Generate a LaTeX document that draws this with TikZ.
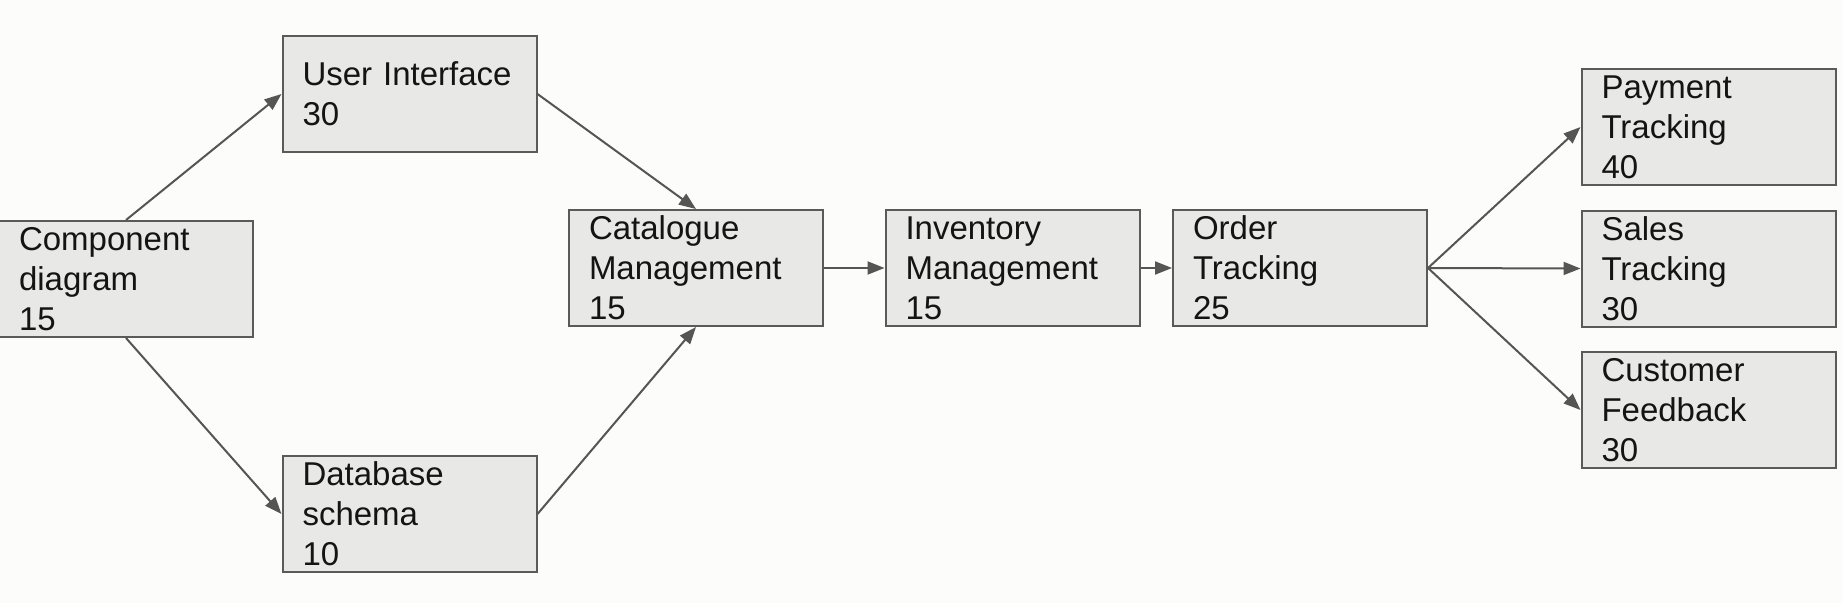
\documentclass[tikz,border=0pt]{standalone}
\usepackage{fontspec}
\setmainfont{Liberation Sans}
\usetikzlibrary{arrows.meta}
\definecolor{bgc}{HTML}{FCFCFA}
\definecolor{boxfill}{HTML}{E8E8E6}
\definecolor{boxline}{HTML}{5A5A5A}
\definecolor{arrowc}{HTML}{555555}
\definecolor{txtc}{HTML}{141414}
\begin{document}
\begin{tikzpicture}[x=1pt,y=-1pt,
  task/.style={draw=boxline, fill=boxfill, line width=2pt, anchor=north west,
    minimum width=254pt, minimum height=116pt, text width=214pt,
    inner xsep=20pt, inner ysep=0pt, align=left, text=txtc,
    font=\fontsize{33}{40}\selectfont},
  link/.style={draw=arrowc, line width=2pt, -{Triangle[length=17pt,width=13pt]}}]
\fill[bgc] (0,0) rectangle (1843,603);
\useasboundingbox (0,0) rectangle (1843,603);
\node[task] (comp) at (-2,220) {Component\\diagram\\15};
\node[task] (ui) at (281.5,35) {User Interface\\30};
\node[task] (db) at (281.5,455) {Database\\schema\\10};
\node[task] (cat) at (568,209) {Catalogue\\Management\\15};
\node[task] (inv) at (884.5,209) {Inventory\\Management\\15};
\node[task] (ord) at (1172,209) {Order\\Tracking\\25};
\node[task] (pay) at (1580.5,68) {Payment\\Tracking\\40};
\node[task] (sal) at (1580.5,209.5) {Sales\\Tracking\\30};
\node[task] (cus) at (1580.5,351) {Customer\\Feedback\\30};
\draw[link] (comp.north) -- (ui.west);
\draw[link] (comp.south) -- (db.west);
\draw[link] (ui.east) -- (cat.north);
\draw[link] (db.east) -- (cat.south);
\draw[link] (cat.east) -- (inv.west);
\draw[link] (inv.east) -- (ord.west);
\draw[link] (ord.east) -- (pay.west);
\draw[link] (ord.east) -- (sal.west);
\draw[link] (ord.east) -- (cus.west);
\end{tikzpicture}
\end{document}
